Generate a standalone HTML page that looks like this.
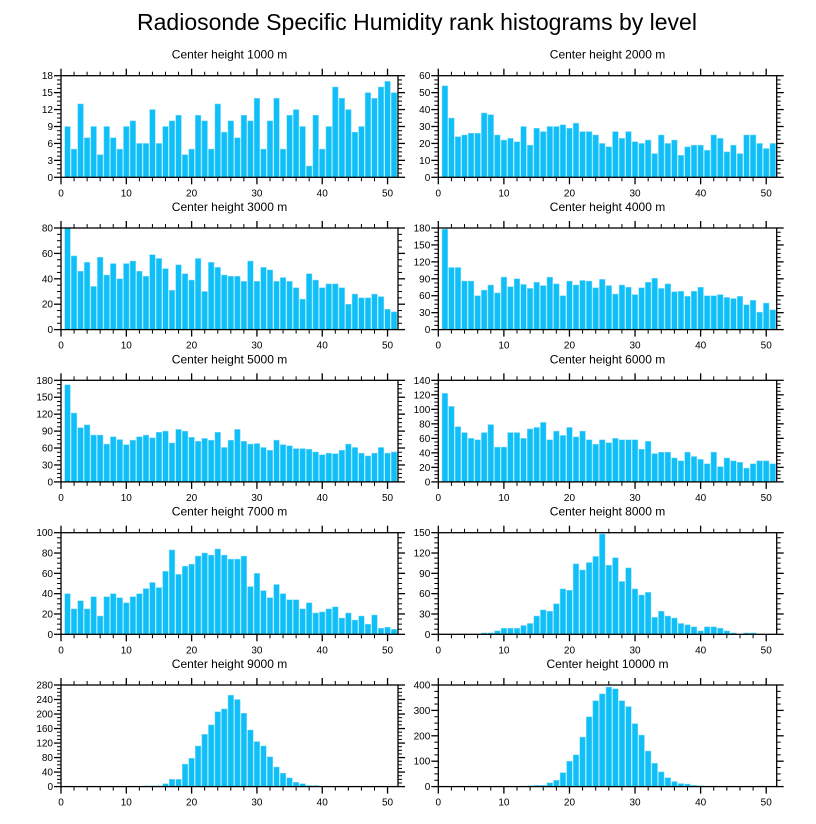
<!DOCTYPE html>
<html><head><meta charset="utf-8">
<style>
html,body{margin:0;padding:0;background:#fff;}
svg{display:block;font-family:"Liberation Sans",sans-serif;}
</style></head>
<body>
<svg id="chart" width="816" height="824" viewBox="0 0 816 824" xmlns="http://www.w3.org/2000/svg">
<text x="417" y="30" text-anchor="middle" font-size="23">Radiosonde Specific Humidity rank histograms by level</text>
</svg>
<script>
const panelTitles = ["Center height 1000 m","Center height 2000 m","Center height 3000 m","Center height 4000 m","Center height 5000 m","Center height 6000 m","Center height 7000 m","Center height 8000 m","Center height 9000 m","Center height 10000 m"];
const yMaxes = [18,60,80,180,180,140,100,150,280,400];
const yStepsArr = [3,10,20,30,30,20,20,30,40,100];
const xTicks = [0,10,20,30,40,50];
const h1000 = [9,5,13,7,9,4,9,7,5,9,10,6,6,12,6,9,10,11,4,5,11,10,5,13,8,10,7,11,10,14,5,10,14,5,11,12,9,2,11,5,9,16,14,12,8,9,15,14,16,17,15];
const h2000 = [54,35,24,25,26,26,38,37,25,22,23,21,30,19,29,27,30,30,31,29,32,27,27,25,20,18,27,23,27,21,20,22,14,25,20,22,13,18,19,19,16,25,23,15,19,14,25,25,20,17,20];
const h3000 = [82,58,46,53,34,57,43,52,40,52,54,46,42,59,56,48,31,51,44,39,56,30,53,49,43,42,42,38,54,38,49,47,38,41,38,33,24,44,39,33,36,36,33,20,28,25,25,28,26,16,14];
const h4000 = [178,110,110,86,86,60,70,79,65,93,76,90,80,73,84,78,93,81,60,86,79,87,86,74,89,78,63,79,75,62,74,84,91,73,81,67,68,59,68,75,60,60,62,57,55,59,44,52,31,47,35];
const h5000 = [172,122,96,101,83,83,67,80,75,66,74,80,83,78,88,90,69,93,90,79,72,77,74,88,61,74,93,72,67,68,61,56,74,66,64,59,59,58,53,48,51,50,56,67,61,51,46,51,61,51,53];
const h6000 = [122,104,76,68,60,58,68,79,48,48,68,68,60,73,75,82,58,70,64,75,62,70,58,52,58,54,60,58,58,58,45,56,39,41,41,33,29,41,35,31,25,41,21,33,29,27,19,25,29,29,25];
const h7000 = [40,25,33,25,37,18,37,40,36,31,37,40,45,51,46,62,83,59,67,69,77,80,78,84,78,74,74,77,47,60,43,36,49,40,34,34,25,31,21,22,25,27,16,21,14,18,10,19,6,7,5];
const h8000 = [0,0,0,0,0,0,2,2,5,9,9,9,13,16,27,36,34,45,67,65,104,95,106,115,148,102,113,78,98,67,58,62,25,34,27,24,16,14,11,5,11,11,9,5,2,0,2,2,0,0,0];
const h9000 = [0,0,0,0,0,0,0,0,0,0,0,0,2,2,2,8,20,20,62,78,112,144,170,206,214,252,240,202,156,124,112,82,54,37,24,12,8,3,3,1,0,0,0,0,1,0,0,0,1,1,1];
const h10000 = [0,0,0,0,0,0,0,0,0,0,0,0,2,3,5,5,15,25,55,100,125,195,275,338,365,392,385,338,315,248,203,140,92,58,35,20,12,10,5,3,0,2,0,0,0,0,0,0,2,0,0];
const allSeries = [h1000,h2000,h3000,h4000,h5000,h6000,h7000,h8000,h9000,h10000];

const svg = document.getElementById('chart');
const NS = 'http://www.w3.org/2000/svg';
function mk(tag, attrs, parent){
  const e = document.createElementNS(NS, tag);
  for (const k in attrs) e.setAttribute(k, attrs[k]);
  (parent||svg).appendChild(e);
  return e;
}
const colLeft = [61, 438.3];
const plotW = [337, 338.4];
const rowTop = [75.7, 228, 380.3, 532.7, 685];
const plotH = 101.6;
const xMax = 51.6;

allSeries.forEach((data, i) => {
  const col = i % 2, row = Math.floor(i / 2);
  const L = colLeft[col], W = plotW[col], T = rowTop[row], B = T + plotH;
  const yMax = yMaxes[i], yStep = yStepsArr[i];
  const xs = v => L + v / xMax * W;
  const ys = v => B - Math.min(v, yMax) / yMax * plotH;
  const g = mk('g', {});
  
  
  const t = mk('text', {x: L + W / 2, y: T - 17, 'text-anchor': 'middle', 'font-size': '12'}, g);
  
  
  t.textContent = panelTitles[i];
  data.forEach((v, k) => {
    const r = k + 1;
    const x0 = xs(r - 0.43), x1 = xs(r + 0.43);
    const y0 = ys(v);
    const bar = mk('rect', {x: x0, y: y0, width: x1 - x0, height: B - y0, fill: '#10bff7', stroke: '#7fdcfb', 'stroke-width': '0.5'}, g);
    
    
  });
  const frame = mk('rect', {x: L, y: T, width: W, height: plotH, fill: 'none', stroke: '#000', 'stroke-width': '1.3'}, g);
  
  
  for (let v = 0; v <= 50; v += 2) {
    const major = v % 10 === 0;
    const len = major ? 7 : 4;
    const x = xs(v);
    mk('line', {x1: x, y1: B, x2: x, y2: B + len, stroke: '#000', 'stroke-width': major ? 1.3 : 1}, g);
    mk('line', {x1: x, y1: T, x2: x, y2: T - len, stroke: '#000', 'stroke-width': major ? 1.3 : 1}, g);
  }
  xTicks.forEach(v => {
    const lab = mk('text', {x: xs(v), y: B + 19, 'text-anchor': 'middle', 'font-size': '10'}, g);
    
    
    lab.textContent = v;
  });
  const minor = yStep / 4;
  for (let v = 0; v <= yMax + 1e-9; v += minor) {
    const major = Math.abs(v / yStep - Math.round(v / yStep)) < 1e-6;
    const len = major ? 7 : 4;
    const y = ys(v);
    mk('line', {x1: L, y1: y, x2: L - len, y2: y, stroke: '#000', 'stroke-width': major ? 1.3 : 1}, g);
    mk('line', {x1: L + W, y1: y, x2: L + W + len, y2: y, stroke: '#000', 'stroke-width': major ? 1.3 : 1}, g);
    if (major) {
      const lab = mk('text', {x: L - 8, y: y + 3.5, 'text-anchor': 'end', 'font-size': '10'}, g);
      
      
      lab.textContent = Math.round(v);
    }
  }
});
</script>
</body></html>
